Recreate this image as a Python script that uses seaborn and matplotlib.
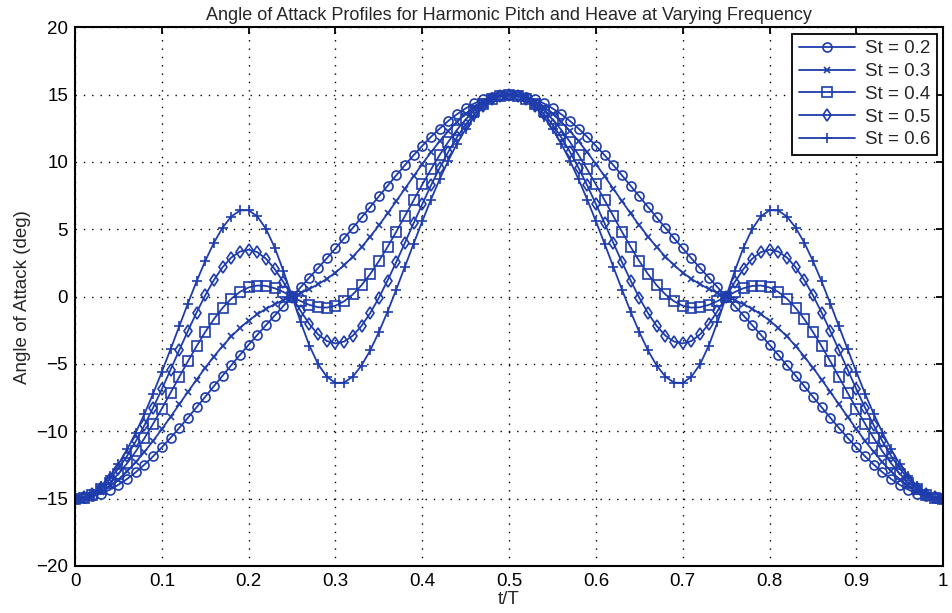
import numpy as np
import pandas as pd
import matplotlib
matplotlib.use("Agg")
import matplotlib.pyplot as plt
import seaborn as sns

# t/T sample points (one marker every 0.01 of the period)
t_over_T = np.linspace(0, 1, 101)

st_labels = ["St = 0.2", "St = 0.3", "St = 0.4", "St = 0.5", "St = 0.6"]
st_markers = ["o", "x", "s", "d", "+"]
st_marker_sizes = [6.5, 5, 6.5, 6, 7.5]

# angle of attack (deg)
aoa_st02 = [
    -15.00, -14.96, -14.83, -14.63, -14.34, -13.97, -13.54, -13.04, -12.47, -11.86,
    -11.19, -10.49, -9.76, -9.00, -8.22, -7.44, -6.65, -5.87, -5.10, -4.33,
    -3.58, -2.84, -2.12, -1.41, -0.70, 0.00,
    0.70, 1.41, 2.12, 2.84, 3.58, 4.33, 5.10, 5.87, 6.65, 7.44,
    8.22, 9.00, 9.76, 10.49, 11.19, 11.86, 12.47, 13.04, 13.54, 13.97,
    14.34, 14.63, 14.83, 14.96, 15.00,
    14.96, 14.83, 14.63, 14.34, 13.97, 13.54, 13.04, 12.47, 11.86, 11.19,
    10.49, 9.76, 9.00, 8.22, 7.44, 6.65, 5.87, 5.10, 4.33, 3.58,
    2.84, 2.12, 1.41, 0.70, 0.00,
    -0.70, -1.41, -2.12, -2.84, -3.58, -4.33, -5.10, -5.87, -6.65, -7.44,
    -8.22, -9.00, -9.76, -10.49, -11.19, -11.86, -12.47, -13.04, -13.54, -13.97,
    -14.34, -14.63, -14.83, -14.96, -15.00,
]
aoa_st03 = [
    -15.00, -14.94, -14.77, -14.48, -14.08, -13.58, -12.98, -12.29, -11.53, -10.71,
    -9.84, -8.93, -8.01, -7.08, -6.17, -5.28, -4.45, -3.67, -2.96, -2.33,
    -1.78, -1.31, -0.91, -0.57, -0.27, 0.00,
    0.27, 0.57, 0.91, 1.31, 1.78, 2.33, 2.96, 3.67, 4.45, 5.28,
    6.17, 7.08, 8.01, 8.93, 9.84, 10.71, 11.53, 12.29, 12.98, 13.58,
    14.08, 14.48, 14.77, 14.94, 15.00,
    14.94, 14.77, 14.48, 14.08, 13.58, 12.98, 12.29, 11.53, 10.71, 9.84,
    8.93, 8.01, 7.08, 6.17, 5.28, 4.45, 3.67, 2.96, 2.33, 1.78,
    1.31, 0.91, 0.57, 0.27, 0.00,
    -0.27, -0.57, -0.91, -1.31, -1.78, -2.33, -2.96, -3.67, -4.45, -5.28,
    -6.17, -7.08, -8.01, -8.93, -9.84, -10.71, -11.53, -12.29, -12.98, -13.58,
    -14.08, -14.48, -14.77, -14.94, -15.00,
]
aoa_st04 = [
    -15.00, -14.92, -14.70, -14.32, -13.81, -13.15, -12.38, -11.49, -10.51, -9.44,
    -8.32, -7.15, -5.98, -4.81, -3.69, -2.63, -1.67, -0.84, -0.16, 0.35,
    0.68, 0.82, 0.79, 0.62, 0.34, 0.00,
    -0.34, -0.62, -0.79, -0.82, -0.68, -0.35, 0.16, 0.84, 1.67, 2.63,
    3.69, 4.81, 5.98, 7.15, 8.32, 9.44, 10.51, 11.49, 12.38, 13.15,
    13.81, 14.32, 14.70, 14.92, 15.00,
    14.92, 14.70, 14.32, 13.81, 13.15, 12.38, 11.49, 10.51, 9.44, 8.32,
    7.15, 5.98, 4.81, 3.69, 2.63, 1.67, 0.84, 0.16, -0.35, -0.68,
    -0.82, -0.79, -0.62, -0.34, 0.00,
    0.34, 0.62, 0.79, 0.82, 0.68, 0.35, -0.16, -0.84, -1.67, -2.63,
    -3.69, -4.81, -5.98, -7.15, -8.32, -9.44, -10.51, -11.49, -12.38, -13.15,
    -13.81, -14.32, -14.70, -14.92, -15.00,
]
aoa_st05 = [
    -15.00, -14.91, -14.63, -14.18, -13.56, -12.77, -11.83, -10.75, -9.55, -8.25,
    -6.87, -5.44, -3.99, -2.56, -1.19, 0.09, 1.23, 2.18, 2.90, 3.34,
    3.48, 3.30, 2.81, 2.05, 1.08, 0.00,
    -1.08, -2.05, -2.81, -3.30, -3.48, -3.34, -2.90, -2.18, -1.23, -0.09,
    1.19, 2.56, 3.99, 5.44, 6.87, 8.25, 9.55, 10.75, 11.83, 12.77,
    13.56, 14.18, 14.63, 14.91, 15.00,
    14.91, 14.63, 14.18, 13.56, 12.77, 11.83, 10.75, 9.55, 8.25, 6.87,
    5.44, 3.99, 2.56, 1.19, -0.09, -1.23, -2.18, -2.90, -3.34, -3.48,
    -3.30, -2.81, -2.05, -1.08, 0.00,
    1.08, 2.05, 2.81, 3.30, 3.48, 3.34, 2.90, 2.18, 1.23, 0.09,
    -1.19, -2.56, -3.99, -5.44, -6.87, -8.25, -9.55, -10.75, -11.83, -12.77,
    -13.56, -14.18, -14.63, -14.91, -15.00,
]
aoa_st06 = [
    -15.00, -14.90, -14.58, -14.06, -13.34, -12.44, -11.35, -10.10, -8.71, -7.20,
    -5.59, -3.92, -2.22, -0.52, 1.12, 2.64, 4.00, 5.12, 5.94, 6.39,
    6.41, 5.95, 5.02, 3.64, 1.91, 0.00,
    -1.91, -3.64, -5.02, -5.95, -6.41, -6.39, -5.94, -5.12, -4.00, -2.64,
    -1.12, 0.52, 2.22, 3.92, 5.59, 7.20, 8.71, 10.10, 11.35, 12.44,
    13.34, 14.06, 14.58, 14.90, 15.00,
    14.90, 14.58, 14.06, 13.34, 12.44, 11.35, 10.10, 8.71, 7.20, 5.59,
    3.92, 2.22, 0.52, -1.12, -2.64, -4.00, -5.12, -5.94, -6.39, -6.41,
    -5.95, -5.02, -3.64, -1.91, 0.00,
    1.91, 3.64, 5.02, 5.95, 6.41, 6.39, 5.94, 5.12, 4.00, 2.64,
    1.12, -0.52, -2.22, -3.92, -5.59, -7.20, -8.71, -10.10, -11.35, -12.44,
    -13.34, -14.06, -14.58, -14.90, -15.00,
]

x_ticks = [0, 0.1, 0.2, 0.3, 0.4, 0.5, 0.6, 0.7, 0.8, 0.9, 1]
x_tick_labels = ["0", "0.1", "0.2", "0.3", "0.4", "0.5", "0.6", "0.7", "0.8", "0.9", "1"]
y_ticks = [-20, -15, -10, -5, 0, 5, 10, 15, 20]

series = [aoa_st02, aoa_st03, aoa_st04, aoa_st05, aoa_st06]

sns.set_style("white")
plt.rcParams["font.family"] = ["Liberation Sans", "DejaVu Sans"]
plt.rcParams["axes.unicode_minus"] = True

line_color = "#1e3cab"

fig = plt.figure(figsize=(9.53, 6.13), dpi=100)
ax = fig.add_axes([0.0787, 0.0767, 0.911, 0.879])

for lab, mk, ms, vals in zip(st_labels, st_markers, st_marker_sizes, series):
    df = pd.DataFrame({"t": t_over_T, "aoa": vals})
    sns.lineplot(data=df, x="t", y="aoa", ax=ax, color=line_color, marker=mk,
                 markersize=ms, markerfacecolor="none", markeredgecolor=line_color,
                 markeredgewidth=1.2, linewidth=1.3, label=lab)

ax.set_xlim(0, 1)
ax.set_ylim(-20, 20)
ax.set_xticks(x_ticks)
ax.set_xticklabels(x_tick_labels)
ax.set_yticks(y_ticks)
ax.tick_params(direction="in", length=5, width=1.3, top=True, right=True,
               labelsize=13.5, pad=5, colors="black")
ax.grid(True, color="black", linestyle=(0, (1, 5)), linewidth=1.0)
for sp in ax.spines.values():
    sp.set_color("black")
    sp.set_linewidth(1.5)

ax.set_title("Angle of Attack Profiles for Harmonic Pitch and Heave at Varying Frequency",
             fontsize=13, pad=5)
ax.set_xlabel("t/T", fontsize=13.5, labelpad=1)
ax.set_ylabel("Angle of Attack (deg)", fontsize=13.5, labelpad=4)

leg = ax.legend(loc="upper right", fontsize=13.5, handlelength=3.0, frameon=True,
                fancybox=False, borderaxespad=0.35, labelspacing=0.3,
                handletextpad=0.5, borderpad=0.35)
leg.get_frame().set_edgecolor("black")
leg.get_frame().set_linewidth(1.3)
leg.get_frame().set_alpha(1)

fig.savefig("out.png", dpi=100)
